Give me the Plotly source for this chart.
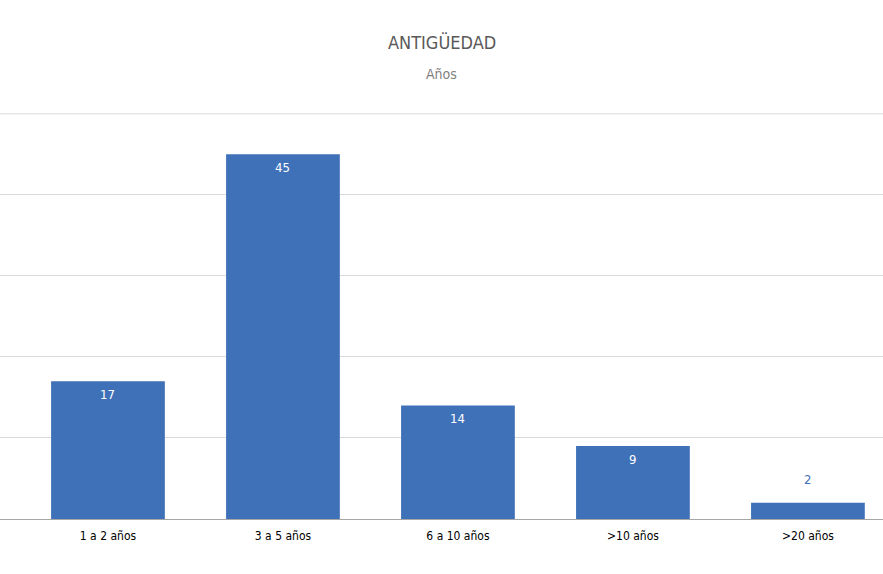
import plotly.graph_objects as go

categories = ['1 a 2 años', '3 a 5 años', '6 a 10 años', '>10 años', '>20 años']
values = [17, 45, 14, 9, 2]
label_inside = [True, True, True, True, False]

bar_color = '#3f71b8'
font_family = 'DejaVu Sans Condensed, Liberation Sans Narrow, Arial Narrow, sans-serif'

fig = go.Figure()
fig.add_trace(go.Bar(x=list(range(len(categories))), y=values, marker_color=bar_color,
                     marker_line_width=0, width=0.65, hoverinfo='skip'))

# value labels: white inside the bar top, blue above for the short bar
for i, v in enumerate(values):
    fig.add_annotation(x=i, y=v, text=str(v), showarrow=False, xref='x', yref='y',
                       yshift=-13 if label_inside[i] else 23,
                       font=dict(family=font_family, size=13,
                                 color='white' if label_inside[i] else bar_color))

# title + subtitle (y given as pixels from top, converted below)
fig.add_annotation(x=0.5, y=42, xref='paper', yref='paper', text='ANTIGÜEDAD', showarrow=False,
                   yanchor='middle', font=dict(family=font_family, size=18, color='#595959'))
fig.add_annotation(x=0.5, y=74, xref='paper', yref='paper', text='Años', showarrow=False,
                   yanchor='middle', font=dict(family=font_family, size=14, color='#7f7f7f'))

plot_h = 574 - 113 - 55
for ann in fig.layout.annotations:
    if ann.xref == 'paper':
        ann.y = 1 + (113 - ann.y) / plot_h

# top gridline sits on the edge of the plot, draw it explicitly
fig.add_shape(type='line', xref='paper', yref='y', x0=0, x1=1, y0=50, y1=50,
              line=dict(color='#d9d9d9', width=1))

fig.update_xaxes(tickmode='array', tickvals=list(range(len(categories))), ticktext=categories,
                 range=[-0.617, 4.429], showgrid=False, zeroline=False,
                 showline=True, linecolor='#a6a6a6', linewidth=1, ticks='',
                 ticklabelstandoff=6,
                 tickfont=dict(family=font_family, size=12, color='#000000'))
fig.update_yaxes(range=[0, 50.1], tickvals=[10, 20, 30, 40], showticklabels=False,
                 gridcolor='#d9d9d9', gridwidth=1, zeroline=False, showline=False)

fig.update_layout(width=883, height=574, margin=dict(l=0, r=0, t=113, b=55),
                  plot_bgcolor='white', paper_bgcolor='white', showlegend=False)

fig.write_html("out.html", config={'displayModeBar': False},
               post_script="document.body.style.margin='0';")
